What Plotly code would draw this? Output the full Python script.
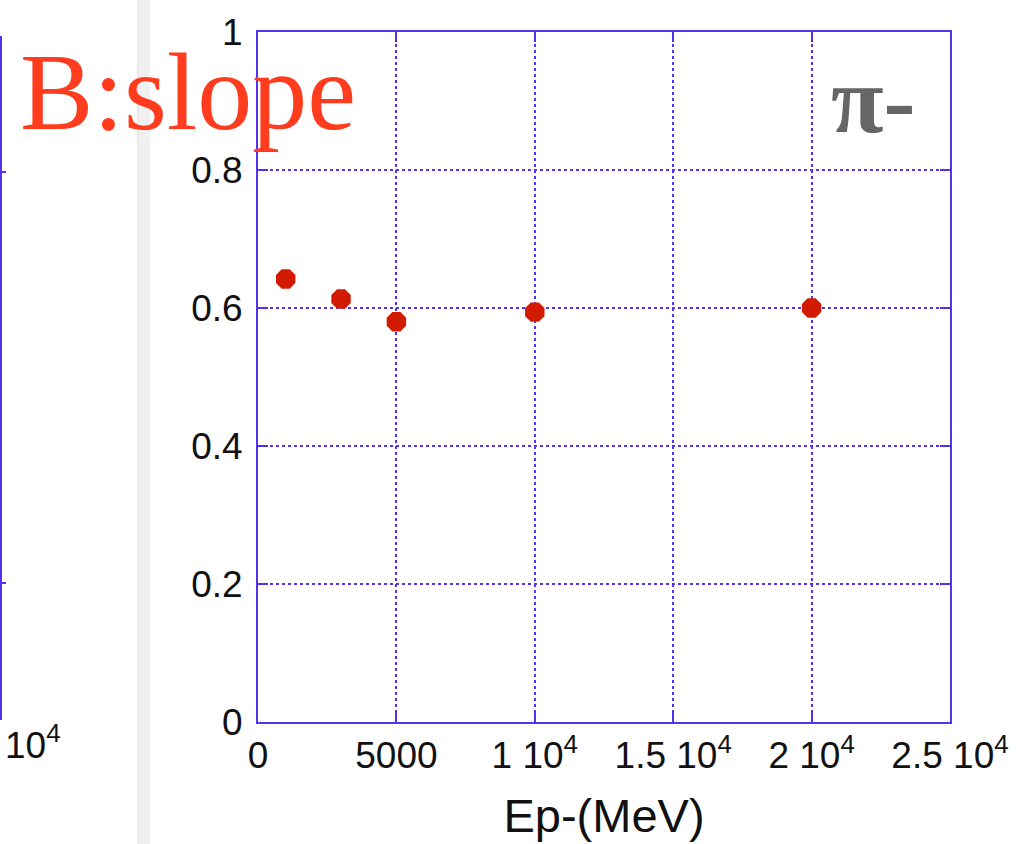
import plotly.graph_objects as go

# ---- data ----
energy_mev = [1000, 3000, 5000, 10000, 20000]
slope_b = [0.642, 0.613, 0.580, 0.594, 0.600]

x_tick_vals = [0, 5000, 10000, 15000, 20000, 25000]
x_tick_text = ["0", "5000", "1 10<sup>4</sup>", "1.5 10<sup>4</sup>",
               "2 10<sup>4</sup>", "2.5 10<sup>4</sup>"]
y_tick_vals = [0, 0.2, 0.4, 0.6, 0.8, 1.0]
y_tick_text = ["0", "0.2", "0.4", "0.6", "0.8", "1"]

# ---- layout geometry (pixels) ----
W, H = 1036, 844
L, R, T, B = 258, 86, 32, 122
PW, PH = W - L - R, H - T - B


def px(x):
    return (x - L) / PW


def py(y):
    return (H - B - y) / PH


AXIS = "#5533ee"
FONT = "Liberation Sans, Arial, sans-serif"

fig = go.Figure()
fig.add_trace(go.Scatter(
    x=energy_mev, y=slope_b, mode="markers",
    marker=dict(symbol="octagon", size=21, color="#d21a00", line=dict(width=0)),
    showlegend=False,
))

axis_common = dict(
    showline=True, linecolor=AXIS, linewidth=2, mirror="ticks",
    ticks="inside", ticklen=10, tickwidth=2, tickcolor=AXIS,
    showgrid=True, gridcolor=AXIS, gridwidth=1.5, griddash="dot",
    zeroline=False,
    tickfont=dict(family=FONT, size=37, color="#111111"),
)

fig.update_xaxes(
    range=[0, 25000], tickmode="array", tickvals=x_tick_vals, ticktext=x_tick_text,
    title=dict(text="Ep-(MeV)", font=dict(family=FONT, size=47, color="#111111"), standoff=24),
    **axis_common,
)
fig.update_yaxes(
    range=[0, 1], tickmode="array", tickvals=y_tick_vals, ticktext=y_tick_text,
    ticklabelstandoff=6,
    **axis_common,
)

shapes = [
    # slide divider
    dict(type="rect", xref="paper", yref="paper", x0=px(137), x1=px(150), y0=py(H), y1=py(0),
         fillcolor="#f0f0f0", line=dict(width=0), layer="below"),
    dict(type="line", xref="paper", yref="paper", x0=px(138), x1=px(138), y0=py(H), y1=py(0),
         line=dict(color="#e2e2e2", width=1)),
    # neighbouring plot edge
    dict(type="line", xref="paper", yref="paper", x0=px(1), x1=px(1), y0=py(36), y1=py(720),
         line=dict(color=AXIS, width=2)),
    dict(type="line", xref="paper", yref="paper", x0=px(0), x1=px(6), y0=py(172), y1=py(172),
         line=dict(color=AXIS, width=2)),
    dict(type="line", xref="paper", yref="paper", x0=px(0), x1=px(6), y0=py(583), y1=py(583),
         line=dict(color=AXIS, width=2)),
]

annotations = [
    dict(text="B:slope", xref="paper", yref="paper", x=px(18), y=py(29),
         xanchor="left", yanchor="top", showarrow=False,
         font=dict(family="Liberation Serif, Times New Roman, serif", size=110, color="#ff3c1e")),
    dict(text="<b>π-</b>", xref="paper", yref="paper", x=px(918), y=py(44),
         xanchor="right", yanchor="top", showarrow=False,
         font=dict(family="Liberation Serif, Times New Roman, serif", size=96, color="#666666")),
    dict(text="10<sup>4</sup>", xref="paper", yref="paper", x=px(3), y=py(717),
         xanchor="left", yanchor="top", showarrow=False,
         font=dict(family=FONT, size=37, color="#111111")),
]

fig.update_layout(
    width=W, height=H, autosize=False,
    margin=dict(l=L, r=R, t=T, b=B),
    paper_bgcolor="white", plot_bgcolor="white",
    shapes=shapes, annotations=annotations,
)

fig.write_html("out.html")
